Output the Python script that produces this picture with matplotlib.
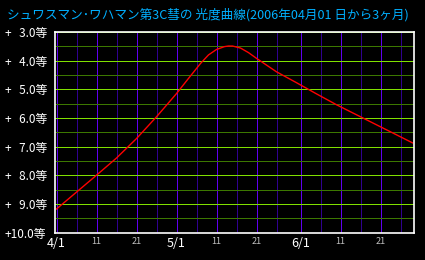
import matplotlib
matplotlib.use("Agg")
import matplotlib.pyplot as plt

plt.rcParams['font.family'] = ['Noto Sans CJK JP', 'DejaVu Sans']

title = "シュワスマン･ワハマン第3C彗の 光度曲線(2006年04月01 日から3ヶ月)"

# days after 2006-04-01 and magnitude
days = [0, 5, 10, 15, 20, 25, 30, 33, 36, 38, 40, 42, 43, 44, 46, 48, 50,
        55, 60, 65, 70, 75, 80, 85, 89]
mags = [9.18, 8.59, 8.00, 7.40, 6.72, 5.96, 5.15, 4.62, 4.10, 3.80, 3.61, 3.51, 3.49,
        3.49, 3.56, 3.72, 3.92, 4.39, 4.77, 5.16, 5.54, 5.89, 6.24, 6.59, 6.87]

x_major = [0, 10, 20, 30, 40, 50, 61, 71, 81]
x_labels = ["4/1", "11", "21", "5/1", "11", "21", "6/1", "11", "21"]
x_minor = [5, 15, 25, 35, 45, 55, 66, 76, 86]
y_major = [3, 4, 5, 6, 7, 8, 9, 10]
y_labels = ["+%s等" % ("%.1f" % m).rjust(4, "\u2007") for m in y_major]
y_minor = [3.5, 4.5, 5.5, 6.5, 7.5, 8.5, 9.5]

fig = plt.figure(figsize=(4.25, 2.6), dpi=100, facecolor="black")
ax = fig.add_axes([55 / 425, 1 - 232.5 / 260, 358.5 / 425, 200.5 / 260])
ax.set_facecolor("black")

px = 0.72  # one pixel in points
for d in x_minor:
    ax.axvline(d, color="#300090", lw=px, zorder=1, snap=True)
for d in x_major:
    ax.axvline(d, color="#6000f0", lw=px, zorder=1, snap=True)
for m in y_minor:
    ax.axhline(m, color="#3c7800", lw=px, zorder=1, snap=True)
for m in y_major:
    ax.axhline(m, color="#80e000", lw=px, zorder=1, snap=True)

ax.plot(days, mags, color="#ff0000", lw=1.0, zorder=3)

ax.set_xlim(-0.375, 89.25)
ax.set_ylim(10, 3)
for s in ax.spines.values():
    s.set_color("white")
    s.set_linewidth(1.2)
    s.set_zorder(4)

ax.set_xticks(x_major)
ax.set_xticklabels(x_labels)
ax.set_yticks(y_major)
ax.set_yticklabels(y_labels, color="white", fontsize=8.5)
ax.tick_params(length=0)
ax.tick_params(axis="y", pad=36)
ax.tick_params(axis="x", pad=3)
for lab in ax.get_yticklabels():
    lab.set_ha("left")
for lab in ax.get_xticklabels():
    if "/" in lab.get_text():
        lab.set_color("white")
        lab.set_fontsize(9)
    else:
        lab.set_color("#c0c0c0")
        lab.set_fontsize(6.5)

fig.text(7 / 425, 1 - 15 / 260, title, color="#00b0ff", fontsize=9.1, va="center", ha="left")

fig.savefig("out.png", dpi=100, facecolor="black")
